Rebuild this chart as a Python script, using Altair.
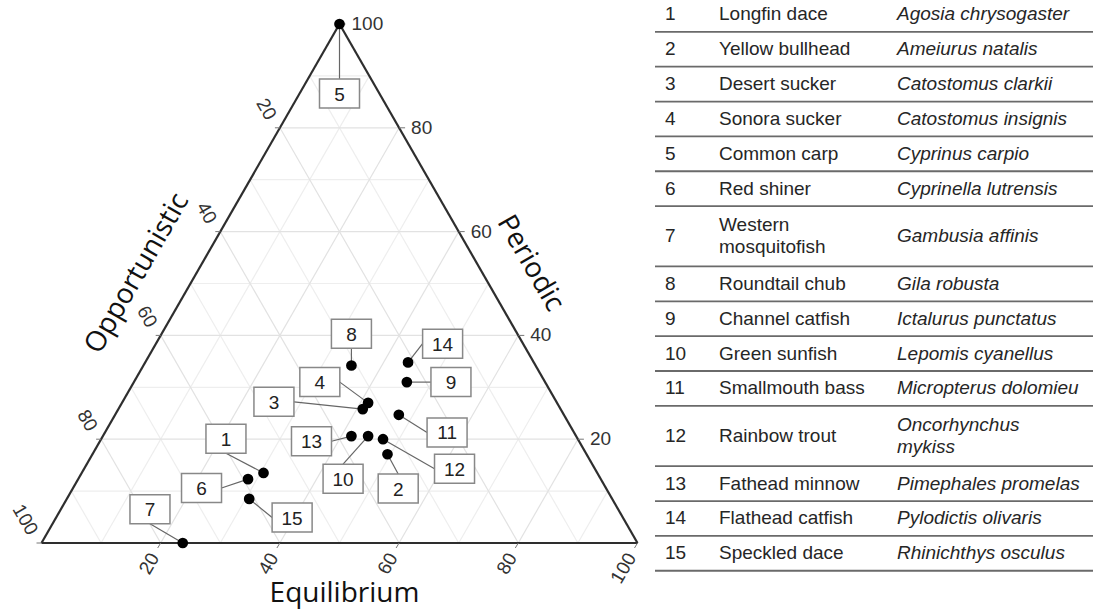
import altair as alt
import pandas as pd

# ---------------------------------------------------------------
# Species and their life-history strategy composition (%)
# ---------------------------------------------------------------
species_no = list(range(1, 16))
common_names = [
    "Longfin dace", "Yellow bullhead", "Desert sucker", "Sonora sucker",
    "Common carp", "Red shiner", "Western\nmosquitofish", "Roundtail chub",
    "Channel catfish", "Green sunfish", "Smallmouth bass", "Rainbow trout",
    "Fathead minnow", "Flathead catfish", "Speckled dace",
]
scientific_names = [
    "Agosia chrysogaster", "Ameiurus natalis", "Catostomus clarkii",
    "Catostomus insignis", "Cyprinus carpio", "Cyprinella lutrensis",
    "Gambusia affinis", "Gila robusta", "Ictalurus punctatus",
    "Lepomis cyanellus", "Micropterus dolomieu", "Oncorhynchus\nmykiss",
    "Pimephales promelas", "Pylodictis olivaris", "Rhinichthys osculus",
]
opportunistic = [56.0, 33.4, 33.2, 31.7, 0.0, 59.2, 76.3, 30.9,
                 23.2, 34.9, 27.7, 32.7, 37.7, 21.1, 60.9]
periodic = [13.5, 17.1, 25.8, 27.0, 100.0, 12.3, 0.0, 34.2,
            31.0, 20.6, 24.7, 20.0, 20.6, 34.8, 8.5]
equilibrium = [30.5, 49.5, 41.0, 41.3, 0.0, 28.5, 23.7, 34.9,
               45.8, 44.5, 47.6, 47.3, 41.7, 44.1, 30.6]
tick_values = [20, 40, 60, 80, 100]

# label box placement relative to each point (ternary plane units: X, P)
label_dx = [-6.3, 1.8, -14.9, -8.1, 0.0, -7.8, -5.5, 0.0,
            7.4, -4.2, 8.1, 12.0, -6.7, 5.8, 7.2]
label_dp = [6.6, -6.6, 1.4, 4.0, -13.4, -1.7, 6.5, 6.1,
            0.0, -8.2, -3.4, -5.7, -1.0, 3.6, -3.6]

# ---------------------------------------------------------------
# Canvas / scale setup
# ---------------------------------------------------------------
W, H = 1094, 613
PX_X, X0 = 5.96, 41.5      # pixels per X unit, pixel of X = 0
PX_P, P0 = 5.19, 543.0     # pixels per P unit, pixel of P = 0

x_scale = alt.Scale(domain=[-X0 / PX_X, (W - X0) / PX_X], nice=False, zero=False)
y_scale = alt.Scale(domain=[(P0 - H) / PX_P, P0 / PX_P], nice=False, zero=False)

NUM_FONT = "Liberation Sans"
TITLE_FONT = "Open Sans"
INK = "#333333"


def xe(field):
    return alt.X(field, type="quantitative", scale=x_scale, axis=None)


def ye(field):
    return alt.Y(field, type="quantitative", scale=y_scale, axis=None)


# ternary -> plane: X = E + P/2, P vertical
pts = []
for i in range(len(species_no)):
    tot = opportunistic[i] + periodic[i] + equilibrium[i]
    p = periodic[i] / tot * 100
    e = equilibrium[i] / tot * 100
    pts.append(dict(no=str(species_no[i]), X=e + p / 2, P=p))
points = pd.DataFrame(pts)

# label boxes and leader segments (ggrepel-like attachment)
HW, HH = 20.0, 14.5   # half box size in pixels
lab_rows = []
for i, r in points.iterrows():
    lx, lp = r.X + label_dx[i], r.P + label_dp[i]
    sx, sy = r.X * PX_X, -r.P * PX_P
    cx, cy = lx * PX_X, -lp * PX_P
    gx = max(cx - HW - sx, sx - (cx + HW), 0)
    gy = max(cy - HH - sy, sy - (cy + HH), 0)
    if gx >= gy:
        ax, ay = (cx - HW if sx < cx else cx + HW), cy
    else:
        ax, ay = cx, (cy - HH if sy < cy else cy + HH)
    lab_rows.append(dict(no=r.no, X=r.X, P=r.P, lx=lx, lp=lp,
                         ax=ax / PX_X, ap=-ay / PX_P))
labels = pd.DataFrame(lab_rows)

# grid lines every 10 %
grid = []
for v in range(10, 100, 10):
    major = v % 20 == 0
    grid.append(dict(x1=v / 2, y1=v, x2=100 - v / 2, y2=v, major=major))
    grid.append(dict(x1=v, y1=0, x2=50 + v / 2, y2=100 - v, major=major))
    grid.append(dict(x1=100 - v, y1=0, x2=(100 - v) / 2, y2=100 - v, major=major))
grid = pd.DataFrame(grid)

edges = pd.DataFrame([
    dict(x1=0, y1=0, x2=100, y2=0),
    dict(x1=0, y1=0, x2=50, y2=100),
    dict(x1=100, y1=0, x2=50, y2=100),
])

right_ticks = pd.DataFrame([dict(X=100 - v / 2, P=v, t=str(v)) for v in tick_values])
left_ticks = pd.DataFrame([dict(X=(100 - v) / 2, P=100 - v, t=str(v)) for v in tick_values])
bottom_ticks = pd.DataFrame([dict(X=v, P=0, t=str(v)) for v in tick_values])


def seg(df, **mk):
    return alt.Chart(df).mark_rule(**mk).encode(
        x=xe("x1"), y=ye("y1"), x2="x2", y2="y2")


def tick_rule(df, **mk):
    return alt.Chart(df).mark_rule(color="#777777", strokeWidth=1, **mk).encode(
        x=xe("X"), y=ye("P"), x2="X", y2="P")


def tick_text(df, **mk):
    return alt.Chart(df).mark_text(font=NUM_FONT, fontSize=19, color=INK, **mk).encode(
        x=xe("X"), y=ye("P"), text="t:N")


def title(text, X, P, **mk):
    return alt.Chart(pd.DataFrame([dict(X=X, P=P, t=text)])).mark_text(
        font=TITLE_FONT, fontSize=28, color="#111111", baseline="middle", **mk
    ).encode(x=xe("X"), y=ye("P"), text="t:N")


ternary = alt.layer(
    seg(grid[~grid.major], color="#eeeeee", strokeWidth=1.2),
    seg(grid[grid.major], color="#e2e2e2", strokeWidth=1.2),
    seg(edges, color="#2e2e2e", strokeWidth=2.2),
    tick_rule(right_ticks, x2Offset=6),
    tick_rule(left_ticks, x2Offset=-5),
    tick_rule(bottom_ticks, x2Offset=-3, y2Offset=5),
    tick_text(right_ticks, align="left", baseline="middle", xOffset=12),
    tick_text(left_ticks, align="right", baseline="middle", angle=60,
              xOffset=-8.5, yOffset=-9.5),
    tick_text(bottom_ticks, align="right", baseline="middle", angle=300,
              xOffset=-6, yOffset=11.5),
    title("Equilibrium", 50, 0, align="center", xOffset=5, yOffset=51),
    title("Opportunistic", 25, 50, align="center", angle=300, xOffset=-53, yOffset=-10),
    title("Periodic", 75, 50, align="center", angle=60, xOffset=41.5, yOffset=-20),
    alt.Chart(labels).mark_rule(color="#666666", strokeWidth=1.2).encode(
        x=xe("X"), y=ye("P"), x2="ax", y2="ap"),
    alt.Chart(labels).mark_rect(fill="white", stroke="#888888", strokeWidth=1.5,
                                xOffset=-HW, x2Offset=HW, yOffset=-HH, y2Offset=HH).encode(
        x=xe("lx"), y=ye("lp"), x2="lx", y2="lp"),
    alt.Chart(labels).mark_text(font=NUM_FONT, fontSize=19, color="#222222",
                                baseline="middle", align="center", yOffset=1).encode(
        x=xe("lx"), y=ye("lp"), text="no:N"),
    alt.Chart(points).mark_circle(size=115, color="black", opacity=1).encode(
        x=xe("X"), y=ye("P")),
)

# ---------------------------------------------------------------
# Species key table
# ---------------------------------------------------------------
TOP, ROW_H, EXTRA_LINE, LINE_H = -3.0, 34.85, 25.5, 22
COL_NO, COL_COMMON, COL_SCI = 665, 719, 897
RULE_X1, RULE_X2 = 655, 1093

tx_scale = alt.Scale(domain=[0, W], nice=False, zero=False)
ty_scale = alt.Scale(domain=[H, 0], nice=False, zero=False)

rows = []
y = TOP
for no, c, s in zip(species_no, common_names, scientific_names):
    nc, ns = c.count("\n") + 1, s.count("\n") + 1
    h = ROW_H + EXTRA_LINE * (max(nc, ns) - 1)
    yc = y + h / 2
    rows.append(dict(no=str(no), common=c, sci=s, yc=yc,
                     yc_common=yc - (nc - 1) * LINE_H / 2,
                     yc_sci=yc - (ns - 1) * LINE_H / 2,
                     yb=y + h,
                     xn=COL_NO, xc=COL_COMMON, xs=COL_SCI, r1=RULE_X1, r2=RULE_X2))
    y += h
table_df = pd.DataFrame(rows)


def cell(field, xfield, yfield, **mk):
    return alt.Chart(table_df).mark_text(
        font=NUM_FONT, fontSize=19, color="#262626", align="left",
        baseline="middle", lineBreak="\n", lineHeight=LINE_H, **mk
    ).encode(
        x=alt.X(xfield, type="quantitative", scale=tx_scale, axis=None),
        y=alt.Y(yfield, type="quantitative", scale=ty_scale, axis=None),
        text=f"{field}:N",
    )


table = alt.layer(
    alt.Chart(table_df).mark_rule(color="#6a6a6a", strokeWidth=1.8).encode(
        x=alt.X("r1", type="quantitative", scale=tx_scale, axis=None),
        x2="r2",
        y=alt.Y("yb", type="quantitative", scale=ty_scale, axis=None),
    ),
    cell("no", "xn", "yc"),
    cell("common", "xc", "yc_common"),
    cell("sci", "xs", "yc_sci", fontStyle="italic"),
)

chart = alt.layer(ternary, table).resolve_scale(
    x="independent", y="independent"
).properties(
    width=W, height=H,
    autosize=alt.AutoSizeParams(type="none"),
    padding=0,
    background="white",
).configure_view(stroke=None)

chart.save("out.html", embed_options={"renderer": "svg", "actions": False})
